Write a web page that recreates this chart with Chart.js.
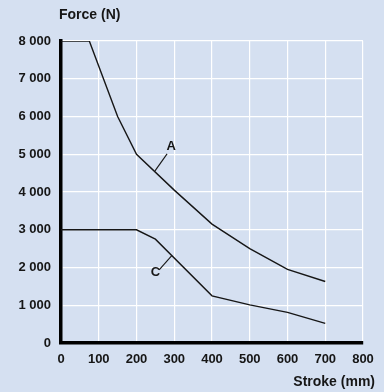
<!DOCTYPE html>
<html>
<head>
<meta charset="utf-8">
<script src="https://cdn.jsdelivr.net/npm/chart.js@4.4.1/dist/chart.umd.min.js"></script>
<style>
  html, body { margin: 0; padding: 0; background: #d5e0f1; }
  #wrap { width: 384px; height: 392px; }
</style>
</head>
<body>
<div id="wrap"><canvas id="c" width="384" height="392"></canvas></div>
<script>
// Stroke (mm) vs. force (N) for two actuator curves
const strokeA = [0, 75, 150, 200, 300, 400, 500, 600, 700];
const forceA  = [8000, 8000, 6000, 5000, 4050, 3150, 2500, 1950, 1630];

const strokeC = [0, 200, 250, 400, 500, 600, 700];
const forceC  = [3000, 3000, 2750, 1250, 1010, 810, 520];

// Curve callouts: label text, label anchor, leader line endpoints
const calloutNames  = ['A', 'C'];
const calloutLabelX = [292, 250];
const calloutLabelY = [5210, 1880];
const leaderStartX  = [281, 260];
const leaderStartY  = [5010, 1940];
const leaderEndX    = [249, 294];
const leaderEndY    = [4560, 2320];

const xTicks = [0, 100, 200, 300, 400, 500, 600, 700, 800];
const yTicks = [0, 1000, 2000, 3000, 4000, 5000, 6000, 7000, 8000];

const xTitle = 'Stroke (mm)';
const yTitle = 'Force (N)';

const ink = '#161616';
const fontFam = '"Liberation Sans", Arial, sans-serif';

const toPts = (xs, ys) => xs.map((x, i) => ({ x, y: ys[i] }));
const fmt = v => String(v).replace(/\B(?=(\d{3})+(?!\d))/g, ' ');

const curveStyle = {
  borderColor: ink, borderWidth: 1.4, pointRadius: 0, tension: 0, fill: false
};

const datasets = [
  Object.assign({ label: 'A', data: toPts(strokeA, forceA) }, curveStyle),
  Object.assign({ label: 'C', data: toPts(strokeC, forceC) }, curveStyle)
];
calloutNames.forEach((n, i) => {
  datasets.push(Object.assign({
    label: 'leader ' + n,
    data: [{ x: leaderStartX[i], y: leaderStartY[i] }, { x: leaderEndX[i], y: leaderEndY[i] }]
  }, curveStyle, { borderWidth: 1.1 }));
});

const textPlugin = {
  id: 'chartText',
  afterDraw(chart) {
    const { ctx, scales: { x, y } } = chart;
    ctx.save();
    ctx.fillStyle = ink;
    ctx.font = 'bold 13px ' + fontFam;
    ctx.textAlign = 'center';
    ctx.textBaseline = 'middle';
    calloutNames.forEach((n, i) => {
      ctx.fillText(n, x.getPixelForValue(calloutLabelX[i]), y.getPixelForValue(calloutLabelY[i]));
    });
    ctx.font = 'bold 14px ' + fontFam;
    ctx.textAlign = 'left';
    ctx.fillText(yTitle, 59, 15);
    ctx.textAlign = 'right';
    ctx.fillText(xTitle, 375, 382);
    ctx.restore();
  }
};

const bgPlugin = {
  id: 'bg',
  beforeDraw(chart) {
    const { ctx, width, height } = chart;
    ctx.save();
    ctx.fillStyle = '#d5e0f1';
    ctx.fillRect(0, 0, width, height);
    ctx.restore();
  }
};

new Chart(document.getElementById('c'), {
  type: 'line',
  data: { datasets },
  options: {
    responsive: false,
    animation: false,
    events: [],
    layout: { padding: { left: 0, right: 21, top: 41, bottom: 0 } },
    plugins: { legend: { display: false }, tooltip: { enabled: false } },
    scales: {
      x: {
        type: 'linear', min: 0, max: 800,
        afterFit: s => { s.height = 49; },
        afterBuildTicks: s => { s.ticks = xTicks.map(v => ({ value: v })); },
        ticks: { color: ink, font: { family: fontFam, size: 13, weight: 'bold' }, padding: 9, maxRotation: 0 },
        grid: { color: '#ffffff', lineWidth: 1.2, drawTicks: false },
        border: { color: '#000000', width: 3.5 }
      },
      y: {
        type: 'linear', min: 0, max: 8000,
        afterFit: s => { s.width = 61; },
        afterBuildTicks: s => { s.ticks = yTicks.map(v => ({ value: v })); },
        ticks: { color: ink, font: { family: fontFam, size: 13, weight: 'bold' }, padding: 10, callback: v => fmt(v) },
        grid: { color: '#ffffff', lineWidth: 1.2, drawTicks: false },
        border: { color: '#000000', width: 3.5 }
      }
    }
  },
  plugins: [bgPlugin, textPlugin]
});
</script>
</body>
</html>
